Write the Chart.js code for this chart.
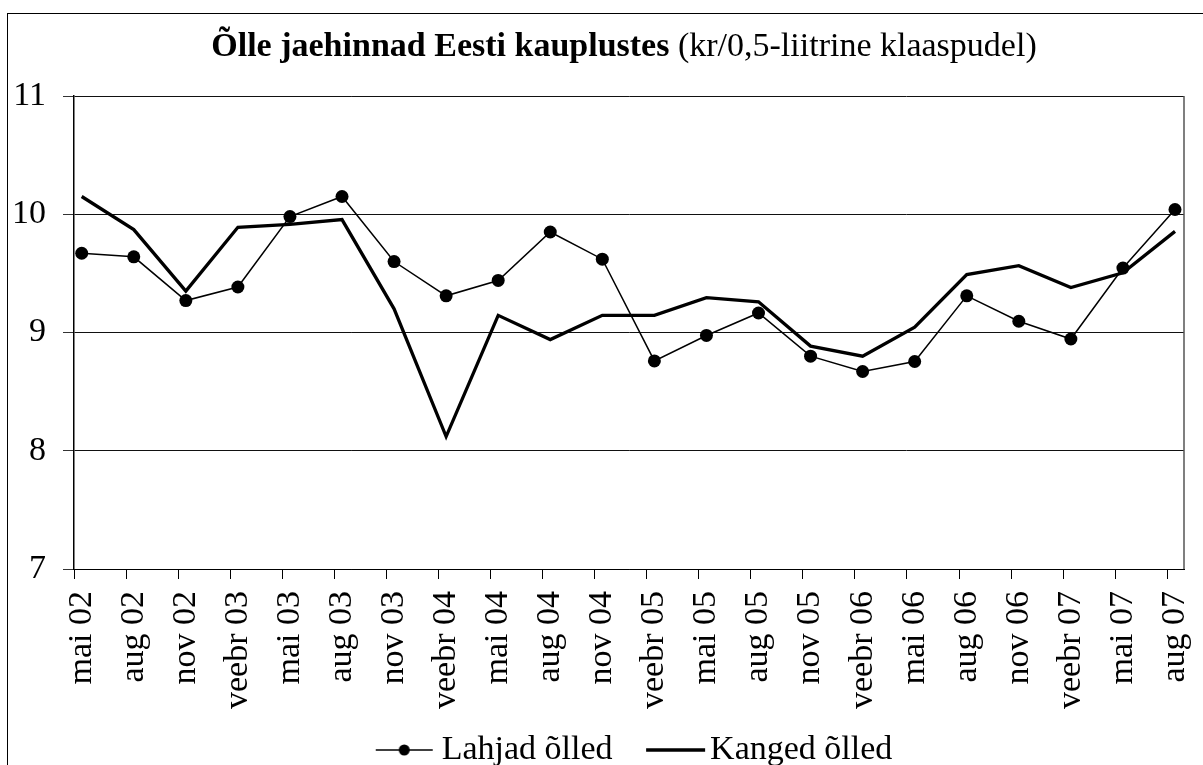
<!DOCTYPE html>
<html>
<head>
<meta charset="utf-8">
<script src="https://cdn.jsdelivr.net/npm/chart.js@4.4.1/dist/chart.umd.min.js"></script>
<style>
  html, body { margin: 0; padding: 0; background: #fff; overflow: hidden; width: 1203px; height: 765px; }
  #frame { position: absolute; left: 7px; top: 13px; width: 1300px; height: 900px; border: 1.5px solid #000; }
  #wrap { position: absolute; left: 0; top: 0; width: 1203px; height: 777px; }
  #title { position: absolute; left: 0; top: 28px; width: 1248px; text-align: center;
           font-family: 'Liberation Serif', 'Times New Roman', serif; font-size: 34px; line-height: 34px; color: #000; z-index: 2; white-space: nowrap; }
</style>
</head>
<body>
<div id="frame"></div>
<div id="wrap"><canvas id="c"></canvas></div>
<div id="title"><b>Õlle jaehinnad Eesti kauplustes</b> (kr/0,5-liitrine klaaspudel)</div>
<script>
const categories = ['mai 02','aug 02','nov 02','veebr 03','mai 03','aug 03','nov 03','veebr 04','mai 04','aug 04','nov 04','veebr 05','mai 05','aug 05','nov 05','veebr 06','mai 06','aug 06','nov 06','veebr 07','mai 07','aug 07'];
const lahjad = [9.67, 9.64, 9.27, 9.385, 9.98, 10.15, 9.60, 9.31, 9.44, 9.85, 9.62, 8.76, 8.975, 9.165, 8.80, 8.67, 8.755, 9.31, 9.095, 8.945, 9.545, 10.04];
const kanged = [10.15, 9.87, 9.35, 9.89, 9.915, 9.955, 9.20, 8.12, 9.145, 8.94, 9.145, 9.145, 9.295, 9.26, 8.885, 8.80, 9.045, 9.49, 9.565, 9.38, 9.505, 9.855];
const yTicks = [7, 8, 9, 10, 11];
const seriesNames = ['Lahjad õlled', 'Kanged õlled'];

const FONT = "'Liberation Serif', 'Times New Roman', serif";
Chart.defaults.font.family = FONT;
Chart.defaults.font.size = 34;
Chart.defaults.color = '#000';

function marker(kind) {
  const c = document.createElement('canvas');
  c.width = 93; c.height = 20;
  const g = c.getContext('2d');
  g.strokeStyle = '#000'; g.fillStyle = '#000';
  if (kind === 'dot') {
    g.lineWidth = 1.5;
    g.beginPath(); g.moveTo(27, 10); g.lineTo(84, 10); g.stroke();
    g.beginPath(); g.arc(55.5, 10, 5.5, 0, Math.PI * 2); g.fill();
  } else {
    g.lineWidth = 3.3;
    g.beginPath(); g.moveTo(29, 10); g.lineTo(88, 10); g.stroke();
  }
  return c;
}
const markers = [marker('dot'), marker('line')];

const plotFrame = {
  id: 'plotFrame',
  afterDraw(chart) {
    const { ctx, chartArea: a } = chart;
    ctx.save();
    ctx.strokeStyle = '#555';
    ctx.lineWidth = 1.5;
    ctx.beginPath();
    ctx.moveTo(a.right, a.top);
    ctx.lineTo(a.right, a.bottom);
    ctx.stroke();
    ctx.restore();
  }
};

new Chart(document.getElementById('c'), {
  type: 'line',
  data: {
    datasets: [
      {
        label: seriesNames[0],
        data: lahjad.map((v, i) => ({ x: i, y: v })),
        borderColor: '#000',
        backgroundColor: '#000',
        borderWidth: 1.5,
        pointRadius: 6.5,
        pointHoverRadius: 6.5,
        pointBorderWidth: 0,
        pointBackgroundColor: '#000',
        tension: 0
      },
      {
        label: seriesNames[1],
        data: kanged.map((v, i) => ({ x: i, y: v })),
        borderColor: '#000',
        backgroundColor: '#000',
        borderWidth: 3.3,
        pointRadius: 0,
        tension: 0
      }
    ]
  },
  options: {
    responsive: true,
    maintainAspectRatio: false,
    animation: false,
    events: [],
    layout: { padding: { left: 0, right: 19, top: 96, bottom: 0 } },
    scales: {
      x: {
        type: 'linear',
        position: 'bottom',
        min: -0.148,
        max: 21.173,
        afterBuildTicks: (axis) => { axis.ticks = categories.map((c, i) => ({ value: i - 0.148 })); },
        afterFit: (s) => { s.height = 142.5; s.paddingRight = 0; s.paddingLeft = 0; },
        ticks: {
          autoSkip: false,
          minRotation: 90,
          maxRotation: 90,
          padding: 12,
          labelOffset: 7.7,
          font: { size: 34 },
          color: '#000',
          callback: (v, i) => categories[i]
        },
        grid: { drawOnChartArea: false, drawTicks: true, tickLength: 10, color: '#000', lineWidth: 1 },
        border: { display: true, color: '#000', width: 1 }
      },
      y: {
        min: 7,
        max: 11,
        afterBuildTicks: (axis) => { axis.ticks = yTicks.map(v => ({ value: v })); },
        afterFit: (s) => { s.width = 74; },
        ticks: { padding: 17, font: { size: 34 }, color: '#000' },
        grid: { color: '#111', lineWidth: 1, drawTicks: true, tickLength: 11, tickColor: '#333' },
        border: { display: true, color: '#000', width: 1.5 }
      }
    },
    plugins: {
      title: { display: false },
      tooltip: { enabled: false },
      legend: {
        display: true,
        position: 'bottom',
        fullSize: false,
        labels: {
          usePointStyle: true,
          pointStyleWidth: 59,
          padding: 21.5,
          color: '#000',
          font: { size: 34 },
          generateLabels(chart) {
            const items = Chart.defaults.plugins.legend.labels.generateLabels(chart);
            items.forEach((it, i) => { it.pointStyle = markers[i]; it.lineWidth = 0; });
            return items;
          }
        }
      }
    }
  },
  plugins: [plotFrame]
});
</script>
</body>
</html>
